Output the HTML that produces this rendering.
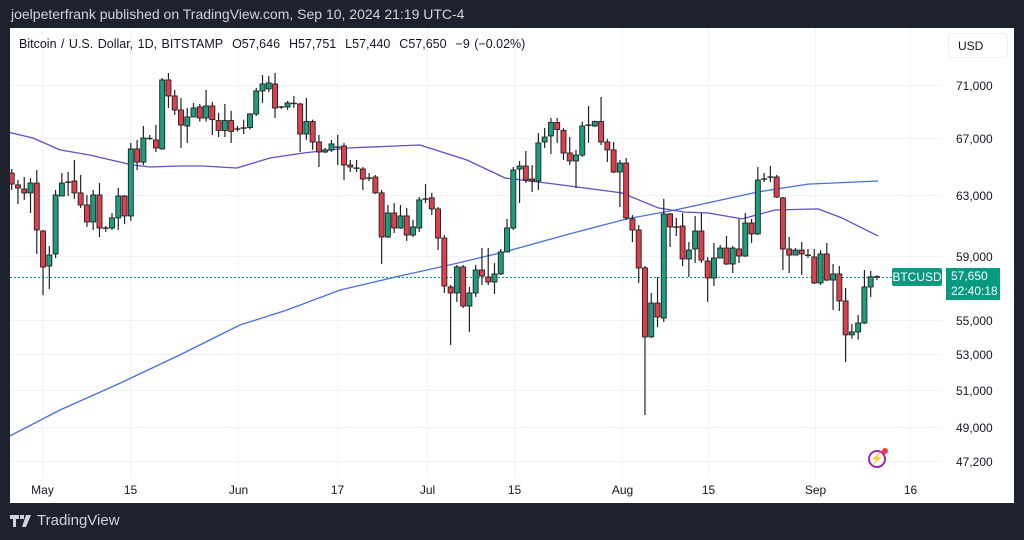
<!DOCTYPE html>
<html><head><meta charset="utf-8"><style>
body{margin:0;width:1024px;height:540px;background:#1e222d;overflow:hidden;font-family:"Liberation Sans",sans-serif}
#hdr{position:absolute;left:11px;top:6px;color:#d1d4dc;font-size:14px}
#panel{position:absolute;left:10px;top:28px;width:1004px;height:475px;background:#fff}
#logo{position:absolute;left:10px;top:512px;color:#d1d4dc;font-size:15px;display:flex;align-items:center;gap:5px}
</style></head><body>
<div id="hdr">joelpeterfrank published on TradingView.com, Sep 10, 2024 21:19 UTC-4</div>
<div id="panel"></div>
<svg id="chart" width="1024" height="540" style="position:absolute;left:0;top:0"></svg>
<div id="logo"><svg width="22" height="12"><path d="M0 0h9v4H6v8H3V4H0z M10 0h4v4h-4z M16 0h5l-5 12h-4z" fill="#d1d4dc"/></svg><span>TradingView</span></div>
<script>
const ohlc = [
[64530,64810,63350,63760],[63700,64040,62390,63490],[63420,64250,62670,63150],[63150,64180,61790,63830],[63830,64740,59100,60660],
[60590,60660,56520,58270],[58330,59610,56890,59030],[59100,63350,58840,63010],[62940,64530,62940,63830],[63900,64600,62940,63880],
[63970,65450,62740,63150],[63150,64390,62130,62330],[62330,63010,60860,61190],[61190,63350,60660,63010],[63010,63830,60200,60790],
[60790,60920,60530,60770],[60790,61790,60660,61460],[61460,63490,60660,62940],[62940,63010,61050,61590],[61590,66670,61260,66240],
[66240,66890,64740,65300],[65300,67910,65090,67030],[67030,67250,66890,66960],[66890,67980,66020,66310],[66240,71540,66170,71390],
[71390,71930,69250,70160],[70160,70620,68730,69100],[69100,70010,66310,67980],[67910,69250,66670,68580],[68580,69630,68580,69250],
[69330,69550,68240,68500],[68500,70620,68240,69400],[69400,69710,67250,68380],[68310,68880,67100,67580],[67580,69550,67100,68310],
[68310,69030,66670,67510],[67650,67910,67510,67720],[67720,68380,67320,67800],[67800,68880,67650,68800],[68800,70770,68650,70540],
[70540,71770,69630,71080],[70700,71700,70460,71160],[71080,71930,68500,69250],[69330,69400,69180,69320],[69330,69780,69100,69630],
[69630,70160,69250,69550],[69550,69630,66020,67320],[67320,70010,66890,68240],[68240,68380,66170,66740],[66740,67250,64950,66020],
[66020,66310,65950,66170],[66170,66890,66020,66600],[66380,67250,65090,66350],[66450,66670,64040,65090],[65090,65450,64600,64950],
[64880,65450,64600,64860],[64810,64950,63350,64110],[64180,64530,63970,64160],[64250,64390,63080,63150],[63150,63350,58460,60200],
[60200,62330,60130,61790],[61790,62460,60460,60790],[60790,62330,60730,61590],[61590,62130,59940,60330],[60330,61320,60200,60860],
[60790,62870,60530,62670],[62740,63760,62460,62720],[62810,63150,61650,62060],[62060,62190,59350,60130],[60130,60330,56650,57080],
[57020,57140,53540,56650],[56650,58400,56100,58270],[58270,58400,55730,55850],[55850,57020,54300,56650],[56650,58400,56400,58080],
[58080,59490,57140,57700],[57640,59490,57140,57330],[57330,58520,56590,57830],[57830,59420,57770,59230],[59230,61390,59230,60790],
[60790,64950,60660,64740],[64810,65380,62460,65020],[65020,66090,63830,64040],[64110,65090,63210,63970],[63970,67390,63350,66670],
[66740,67760,66310,67100],[67180,68500,65880,68170],[68170,68500,66670,67650],[67580,67760,65450,65950],[65950,67100,65090,65380],
[65380,66170,63490,65800],[65800,68240,65660,67910],[67980,69400,66670,67960],[67910,68310,67840,68240],[68240,70080,66520,66740],
[66740,66960,65300,66170],[66170,66740,64530,64600],[64600,65450,62190,65230],[65230,65590,61320,61460],[61390,61650,59870,60660],
[60660,60990,57270,58210],[58210,58330,49620,54010],[54010,56650,53950,56030],[56030,57640,54590,55190],[55130,62740,54890,61720],
[61720,61790,59550,60860],[60860,61460,60260,60840],[60920,61790,58330,58780],[58780,59870,57640,59350],[59420,61590,58520,60590],
[60590,61790,58520,58710],[58650,58910,56100,57580],[57580,59810,57080,58840],[58840,59680,58840,59480],[59480,60260,58400,58460],
[58460,59610,57890,59480],[59420,61390,58520,58970],[58970,61790,58910,61120],[61120,61390,59810,60400],[60400,64950,60330,64040],
[64110,64530,63900,64100],[64250,65020,63900,64240],[64250,64390,62810,62870],[62810,62870,58080,59420],[59420,60200,57890,59030],
[59030,59480,59030,59350],[59350,59870,57770,59100],[59030,59420,58840,59010],[58910,59420,57200,57270],[57270,59350,57140,59100],
[59100,59810,57390,57450],[57450,58460,55610,57830],[57830,58330,55550,56160],[56160,56960,52560,54130],[54130,54770,53900,54300],
[54300,55310,53850,54830],[54830,58080,54770,57020],[57020,58020,56400,57655],[57646,57751,57440,57650]
];
const ma50 = [[-0.3,67430],[3.4,67030],[7.7,66170],[12.5,65800],[19.3,65090],[22.1,64950],[26.8,65020],[30.5,65020],[35.9,64880],[41.2,65590],[46.5,65950],[53.9,66310],[65.1,66520],[72.6,65450],[78.7,64180],[86.7,63760],[97.3,63150],[103.1,62130],[107.4,61850],[111.1,61790],[116.5,61390],[121.7,61990],[128.6,62060],[132.4,61460],[138.2,60260]];
const ma200 = [[-0.6,48450],[7.7,49890],[17.3,51370],[26.8,52960],[36.4,54710],[43.9,55610],[52.4,56830],[61.9,57700],[69.9,58400],[78.6,59230],[89.0,60400],[98.1,61390],[105.8,61990],[119.0,63210],[127.0,63760],[138.2,63970]];
const priceTicks = [71000,67000,63000,59000,55000,53000,51000,49000,47200];
const timeTickPos = [4.8,18.9,36.1,51.9,66.2,80.1,97.3,111.0,128.1,143.3];
const timeTickLabels = ["May","15","Jun","17","Jul","15","Aug","15","Sep","16"];
const lastPrice = 57650;

const NS="http://www.w3.org/2000/svg";
const svg=document.getElementById('chart');
const X=i=>11.7+i*6.27;
const Y=p=>85+Math.log(71000/p)*921;
function mk(tag,attrs,parent){const e=document.createElementNS(NS,tag);for(const k in attrs)e.setAttribute(k,attrs[k]);(parent||svg).appendChild(e);return e;}
const clip=mk('clipPath',{id:'cp'});mk('rect',{x:10,y:28,width:932,height:450},clip);
const grid=mk('g',{});


priceTicks.forEach(p=>{const y=Math.round(Y(p))+0.5;
 const l=mk('line',{x1:10,x2:942,y1:y,y2:y,stroke:'#f0f3fa','stroke-width':1},grid);
 
 
 const t=mk('text',{x:956,y:y+4.5,'font-size':12,fill:'#131722','font-family':'Liberation Sans, sans-serif'});
 t.textContent=p.toLocaleString('en-US');
 
 
});
timeTickPos.forEach((v,k)=>{const x=Math.round(X(v))+0.5;
 const l=mk('line',{x1:x,x2:x,y1:28,y2:478,stroke:'#f0f3fa','stroke-width':1},grid);
 
 
 const t=mk('text',{x:x,y:494,'font-size':12,fill:'#131722','text-anchor':'middle','font-family':'Liberation Sans, sans-serif'});
 t.textContent=timeTickLabels[k];
 
 
});
const g=mk('g',{'clip-path':'url(#cp)'});
const ly=Math.round(Y(lastPrice))+0.5;
const lp=mk('line',{x1:10,x2:942,y1:ly,y2:ly,stroke:'#089981','stroke-width':1,'stroke-dasharray':'2 2'},g);


function line(arr,color,name){const d=arr.map((p,i)=>(i?'L':'M')+X(p[0]).toFixed(1)+' '+Y(p[1]).toFixed(1)).join(' ');
 const e=mk('path',{d:d,fill:'none',stroke:color,'stroke-width':1.3,'stroke-linejoin':'round'},g);
 
 }
line(ma200,'#4a6fd8','ma-200-line');
line(ma50,'#5b52c4','ma-50-line');
ohlc.forEach((c,i)=>{const [o,h,l,cl]=c;const x=X(i);const up=cl>=o;
 const cg=mk('g',{},g);
 
 
 mk('line',{x1:x,x2:x,y1:Y(h),y2:Y(l),stroke:'#222','stroke-width':1.2},cg);
 const t=Math.min(Y(o),Y(cl)),b=Math.max(Y(o),Y(cl));
 if(b-t<1.5){mk('line',{x1:x-3,x2:x+3,y1:(t+b)/2,y2:(t+b)/2,stroke:'#222','stroke-width':1.4},cg);}
 else mk('rect',{x:x-2.5,y:t,width:5,height:b-t,fill:up?'#1e9c7e':'#dc3f4d',stroke:'#222','stroke-width':0.9},cg);
});
</script>
<div style="position:absolute;left:19px;top:37px;font-size:12.5px;color:#131722;word-spacing:1px">Bitcoin / U.S. Dollar, 1D, BITSTAMP&nbsp; O57,646&nbsp; H57,751&nbsp; L57,440&nbsp; C57,650&nbsp; −9 (−0.02%)</div>
<div style="position:absolute;left:948px;top:33px;width:60px;height:25px;border:1px solid #eef0f3;border-radius:4px;font-size:12px;color:#131722;line-height:25px;box-sizing:border-box;padding-left:9px">USD</div>
<div style="position:absolute;left:892px;top:268px;width:50px;height:18px;background:#089981;color:#fff;font-size:12px;line-height:18px;text-align:center;border-radius:2px">BTCUSD</div>
<div style="position:absolute;left:946px;top:268px;width:54px;height:32px;background:#089981;color:#fff;font-size:12px;line-height:15px;padding:1px 0 0 5px;box-sizing:border-box;white-space:nowrap;overflow:hidden">57,650<br>22:40:18</div>
<div style="position:absolute;left:868px;top:450px;width:18px;height:18px;border:2px solid #9c27b0;border-radius:50%;box-sizing:border-box;color:#9c27b0;font-size:11px;text-align:center;line-height:14px">⚡<span style="position:absolute;right:-4px;top:-4px;width:6px;height:6px;background:#f23645;border-radius:50%"></span></div>
</body></html>
